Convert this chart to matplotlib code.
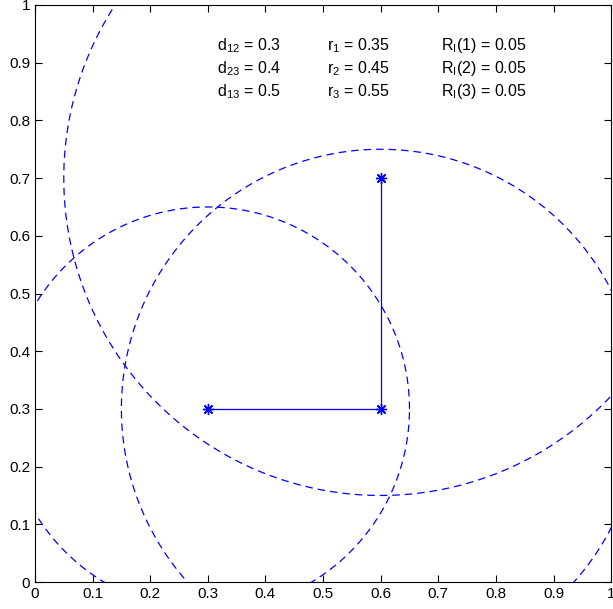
import numpy as np
import matplotlib.pyplot as plt

plt.rcParams['font.family'] = ['Liberation Sans', 'DejaVu Sans']
plt.rcParams['mathtext.fontset'] = 'custom'
plt.rcParams['mathtext.rm'] = 'Liberation Sans'
plt.rcParams['mathtext.it'] = 'Liberation Sans'

# node positions and ranges
xs = [0.3, 0.6, 0.6]
ys = [0.3, 0.3, 0.7]
radii = [0.35, 0.45, 0.55]
dists = [("12", 0.3), ("23", 0.4), ("13", 0.5)]
r_int = [0.05, 0.05, 0.05]

fig = plt.figure(figsize=(6.13, 6.09), dpi=100)
ax = fig.add_axes([0.057, 0.0443, 0.940, 0.9475])

# range circles
t = np.linspace(0, 2 * np.pi, 400)
for cx, cy, r in zip(xs, ys, radii):
    ax.plot(cx + r * np.cos(t), cy + r * np.sin(t), '--', color='b', lw=0.9,
            dashes=(6, 4))

# links between nodes
ax.plot(xs, ys, '-', color='b', lw=0.9, marker=(8, 2, 0), markersize=8,
        markeredgewidth=1.0)

# annotations
for i, (k, d) in enumerate(dists):
    yy = 0.93 - 0.04 * i
    ax.text(0.316, yy, r'd$_{%s}$ = %s' % (k, d), fontsize=11.5, va='center')
    ax.text(0.507, yy, r'r$_{%d}$ = %s' % (i + 1, radii[i]), fontsize=11.5, va='center')
    ax.text(0.705, yy, r'R$_{\mathrm{I}}$(%d) = %s' % (i + 1, r_int[i]), fontsize=11.5, va='center')

ax.set_xlim(0, 1)
ax.set_ylim(0, 1)
ax.set_xticks(np.arange(0, 1.01, 0.1))
ax.set_yticks(np.arange(0, 1.01, 0.1))
ax.set_xticklabels(['0', '0.1', '0.2', '0.3', '0.4', '0.5', '0.6', '0.7', '0.8', '0.9', '1'])
ax.set_yticklabels(['0', '0.1', '0.2', '0.3', '0.4', '0.5', '0.6', '0.7', '0.8', '0.9', '1'])
ax.tick_params(direction='in', top=True, right=True, labelsize=11, length=5)

fig.savefig('out.png', dpi=100)
